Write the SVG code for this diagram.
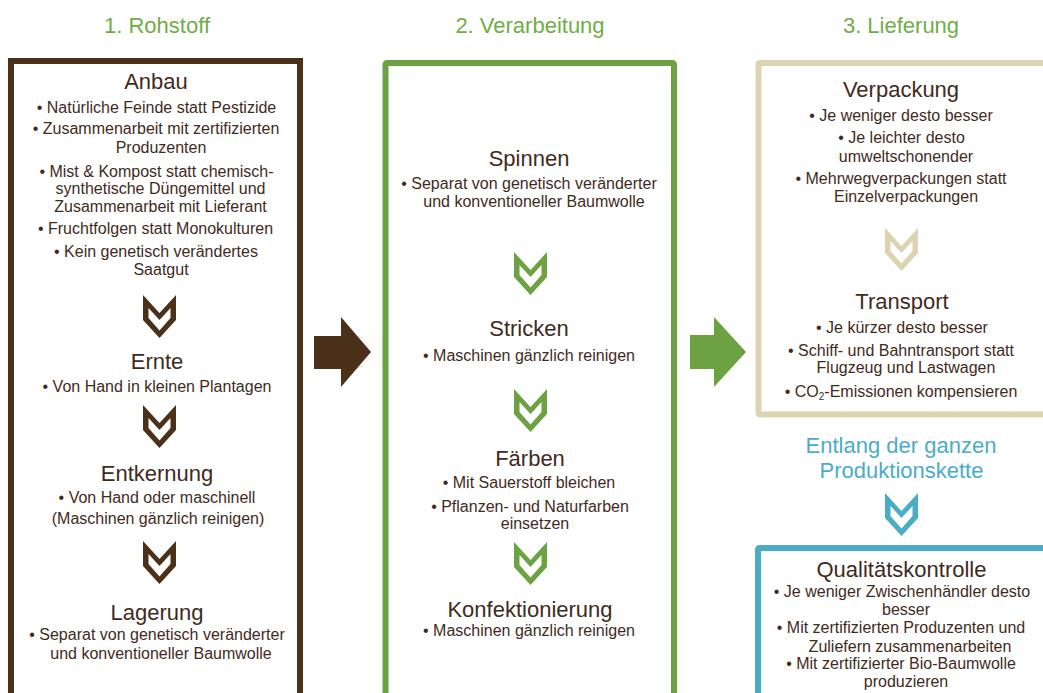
<svg xmlns="http://www.w3.org/2000/svg" xmlns:xlink="http://www.w3.org/1999/xlink" width="1043" height="693" viewBox="0 0 1043 693">
<style>
text{font-family:"Liberation Sans",Arial,sans-serif;text-anchor:middle;fill:#3F2B1D}
.hd{font-size:22px;fill:#70AD47}
.hb{font-size:22px;fill:#4BACC6}
.tt{font-size:22px}
.bd{font-size:16px}
.box{fill:none;stroke-width:6}
.br{fill:#4B301A}.gr{fill:#6DA242}.be{fill:#DDD3B0}.bl{fill:#4BACC6}
</style>
<defs>
<path id="chev" fill-rule="evenodd" d="M0,0 L16.5,18 L33,0 L33,25 L16.5,43 L0,25 Z M5.5,13 L16.5,25 L27.5,13 L27.5,23 L16.5,35.5 L5.5,23 Z"/>
</defs>
<rect width="1043" height="693" fill="#FFFFFF"/>

<g id="headers">
<text class="hd" x="157" y="33">1. Rohstoff</text>
<text class="hd" x="530" y="33">2. Verarbeitung</text>
<text class="hd" x="901" y="33">3. Lieferung</text>
</g>

<g id="box-rohstoff"><rect class="box" x="11" y="61" width="289" height="660" stroke="#4B301A"/></g>
<g id="box-verarbeitung"><rect class="box" x="385.5" y="63" width="288.5" height="660" rx="1.5" stroke="#6DA242" stroke-width="5.5"/></g>
<g id="box-lieferung"><rect class="box" x="758.5" y="63" width="300" height="351.5" rx="1.5" stroke="#DDD3B0" stroke-width="5.5"/></g>
<g id="box-qualitaet"><rect class="box" x="758" y="548" width="300" height="200" rx="1.5" stroke="#4BACC6"/></g>

<g id="anbau">
<text class="tt" x="156" y="89">Anbau</text>
<text class="bd" x="156.5" y="113">• Natürliche Feinde statt Pestizide</text>
<text class="bd" x="156" y="134">• Zusammenarbeit mit zertifizierten</text>
<text class="bd" x="161" y="153">Produzenten</text>
<text class="bd" x="156.5" y="177">• Mist &amp; Kompost statt chemisch-</text>
<text class="bd" x="160.5" y="194">synthetische Düngemittel und</text>
<text class="bd" x="160.5" y="212">Zusammenarbeit mit Lieferant</text>
<text class="bd" x="155.5" y="234">• Fruchtfolgen statt Monokulturen</text>
<text class="bd" x="156" y="257">• Kein genetisch verändertes</text>
<text class="bd" x="161" y="275">Saatgut</text>
</g>
<g id="ernte">
<text class="tt" x="157" y="369">Ernte</text>
<text class="bd" x="157" y="392">• Von Hand in kleinen Plantagen</text>
</g>
<g id="entkernung">
<text class="tt" x="157" y="481">Entkernung</text>
<text class="bd" x="157" y="503">• Von Hand oder maschinell</text>
<text class="bd" x="158" y="524">(Maschinen gänzlich reinigen)</text>
</g>
<g id="lagerung">
<text class="tt" x="157" y="620">Lagerung</text>
<text class="bd" x="157" y="640">• Separat von genetisch veränderter</text>
<text class="bd" x="161" y="659">und konventioneller Baumwolle</text>
</g>

<g id="spinnen">
<text class="tt" x="529" y="166">Spinnen</text>
<text class="bd" x="529" y="189">• Separat von genetisch veränderter</text>
<text class="bd" x="534" y="207">und konventioneller Baumwolle</text>
</g>
<g id="stricken">
<text class="tt" x="529" y="336">Stricken</text>
<text class="bd" x="529" y="361">• Maschinen gänzlich reinigen</text>
</g>
<g id="faerben">
<text class="tt" x="530" y="466">Färben</text>
<text class="bd" x="529" y="488">• Mit Sauerstoff bleichen</text>
<text class="bd" x="530" y="512">• Pflanzen- und Naturfarben</text>
<text class="bd" x="535" y="529">einsetzen</text>
</g>
<g id="konfektionierung">
<text class="tt" x="530" y="617">Konfektionierung</text>
<text class="bd" x="529" y="636">• Maschinen gänzlich reinigen</text>
</g>

<g id="verpackung">
<text class="tt" x="901" y="97">Verpackung</text>
<text class="bd" x="901" y="121">• Je weniger desto besser</text>
<text class="bd" x="901.5" y="143">• Je leichter desto</text>
<text class="bd" x="906" y="162">umweltschonender</text>
<text class="bd" x="901" y="184">• Mehrwegverpackungen statt</text>
<text class="bd" x="906" y="202">Einzelverpackungen</text>
</g>
<g id="transport">
<text class="tt" x="902" y="309">Transport</text>
<text class="bd" x="902" y="333">• Je kürzer desto besser</text>
<text class="bd" x="901" y="356">• Schiff- und Bahntransport statt</text>
<text class="bd" x="906" y="373">Flugzeug und Lastwagen</text>
<text class="bd" x="901" y="397">• CO<tspan font-size="10" dy="3">2</tspan><tspan dy="-3">-Emissionen kompensieren</tspan></text>
</g>
<g id="produktionskette">
<text class="hb" x="901" y="453">Entlang der ganzen</text>
<text class="hb" x="901.5" y="478">Produktionskette</text>
</g>
<g id="qualitaetskontrolle">
<text class="tt" x="901.5" y="577">Qualitätskontrolle</text>
<text class="bd" x="902" y="597">• Je weniger Zwischenhändler desto</text>
<text class="bd" x="906" y="615">besser</text>
<text class="bd" x="901" y="633">• Mit zertifizierten Produzenten und</text>
<text class="bd" x="910" y="652">Zuliefern zusammenarbeiten</text>
<text class="bd" x="901" y="669">• Mit zertifizierter Bio-Baumwolle</text>
<text class="bd" x="906" y="687">produzieren</text>
</g>

<g id="connectors">
<path class="br" d="M314,336 H341 V317 L371,352 L341,387 V369 H314 Z"/>
<path class="gr" d="M690,335 H714 V317 L746,352 L714,387 V369 H690 Z"/>
<use xlink:href="#chev" class="br" x="143" y="295"/>
<use xlink:href="#chev" class="br" x="143" y="405"/>
<use xlink:href="#chev" class="br" x="143" y="541"/>
<use xlink:href="#chev" class="gr" x="514" y="252"/>
<use xlink:href="#chev" class="gr" x="514" y="389"/>
<use xlink:href="#chev" class="gr" x="514" y="542"/>
<use xlink:href="#chev" class="be" x="885" y="228"/>
<use xlink:href="#chev" class="bl" x="885" y="493"/>
</g>
</svg>
